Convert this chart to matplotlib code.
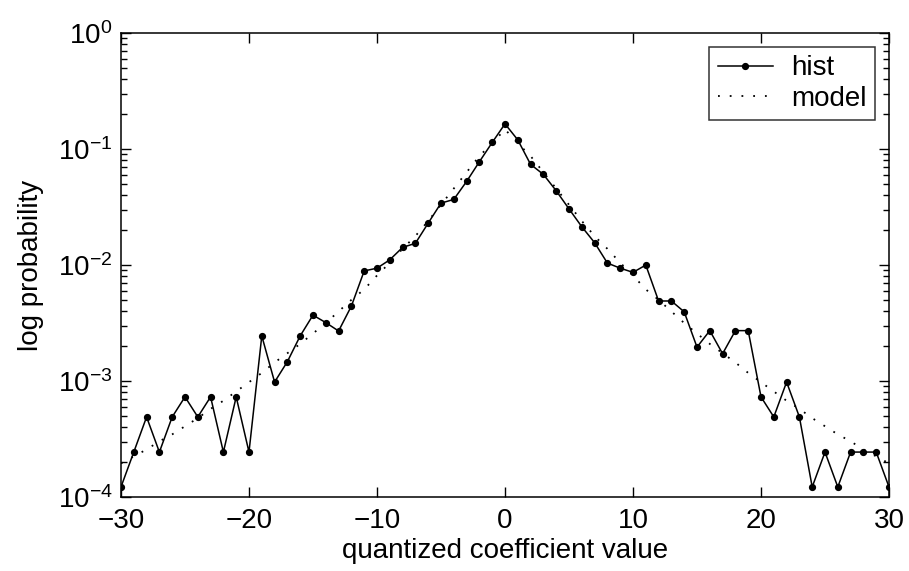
import numpy as np
import matplotlib
matplotlib.use('Agg')
import matplotlib.pyplot as plt
from matplotlib.ticker import LogLocator, NullFormatter

plt.rcParams['font.family'] = ['Liberation Sans', 'DejaVu Sans']
plt.rcParams['mathtext.fontset'] = 'custom'
plt.rcParams['mathtext.rm'] = 'Liberation Sans'
plt.rcParams['mathtext.it'] = 'Liberation Sans'

# quantized coefficient values
coef = list(range(-30, 31))

# histogram probabilities
hist = [1.22e-4, 2.44e-4, 4.9e-4, 2.44e-4, 4.9e-4, 7.3e-4, 4.9e-4, 7.3e-4, 2.44e-4, 7.3e-4,
        2.44e-4, 2.45e-3, 9.8e-4, 1.47e-3, 2.45e-3, 3.7e-3, 3.19e-3, 2.7e-3, 4.43e-3, 8.9e-3,
        9.4e-3, 1.11e-2, 1.42e-2, 1.54e-2, 2.30e-2, 3.42e-2, 3.68e-2, 5.26e-2, 7.78e-2, 0.114,
        0.165,
        0.120, 7.38e-2, 6.05e-2, 4.37e-2, 3.05e-2, 2.14e-2, 1.56e-2, 1.04e-2, 9.4e-3, 8.65e-3,
        1.0e-2, 4.9e-3, 4.9e-3, 3.95e-3, 1.96e-3, 2.72e-3, 1.72e-3, 2.72e-3, 2.72e-3, 7.3e-4,
        4.9e-4, 9.8e-4, 4.9e-4, 1.22e-4, 2.44e-4, 1.22e-4, 2.44e-4, 2.44e-4, 2.44e-4, 1.22e-4]

# model curve, log10 values
model_log = [-3.71, -3.65, -3.59, -3.52, -3.46, -3.39, -3.32, -3.24, -3.17, -3.09,
             -3.01, -2.93, -2.84, -2.76, -2.68, -2.59, -2.50, -2.40, -2.30, -2.21,
             -2.09, -1.98, -1.86, -1.75, -1.62, -1.48, -1.34, -1.20, -1.06, -0.95,
             -0.83,
             -0.95, -1.06, -1.20, -1.34, -1.48, -1.62, -1.75, -1.86, -1.98, -2.09,
             -2.21, -2.30, -2.40, -2.50, -2.59, -2.68, -2.76, -2.84, -2.93, -3.01,
             -3.09, -3.17, -3.24, -3.32, -3.39, -3.46, -3.52, -3.59, -3.65, -3.71]
model = [10 ** v for v in model_log]

fs = 20

fig = plt.figure(figsize=(9.09, 5.71), dpi=100)
ax = fig.add_axes([0.1331, 0.1296, 0.8449, 0.8124])

ax.plot(coef, hist, color='black', linewidth=1.1, marker='o', markersize=4.2, label='hist')
ax.plot(coef, model, color='black', linewidth=1.3, linestyle=(0, (1, 5.5)), label='model')

ax.set_yscale('log')
ax.set_xlim(-30, 30)
ax.set_ylim(1e-4, 1)
ax.set_xticks([-30, -20, -10, 0, 10, 20, 30])
ax.yaxis.set_major_locator(LogLocator(base=10, numticks=10))
ax.yaxis.set_minor_locator(LogLocator(base=10, subs=np.arange(2, 10), numticks=10))
ax.yaxis.set_minor_formatter(NullFormatter())

ax.tick_params(which='both', direction='in', top=True, right=True, labelsize=fs, width=1)
ax.tick_params(which='major', length=7)
ax.tick_params(which='minor', length=4)
ax.tick_params(axis='x', which='major', pad=8)
ax.tick_params(axis='y', which='major', pad=6)
for s in ax.spines.values():
    s.set_linewidth(1.1)

ax.set_xlabel('quantized coefficient value', fontsize=fs, labelpad=3)
ax.set_ylabel('log probability', fontsize=fs, labelpad=10)

leg = ax.legend(loc='upper right', fontsize=fs, frameon=True, fancybox=False,
                edgecolor='black', handlelength=2.0, handletextpad=0.65,
                borderpad=0.3, labelspacing=0.15, borderaxespad=0.5)
leg.get_frame().set_linewidth(1.1)

fig.savefig('out.png', dpi=100)
